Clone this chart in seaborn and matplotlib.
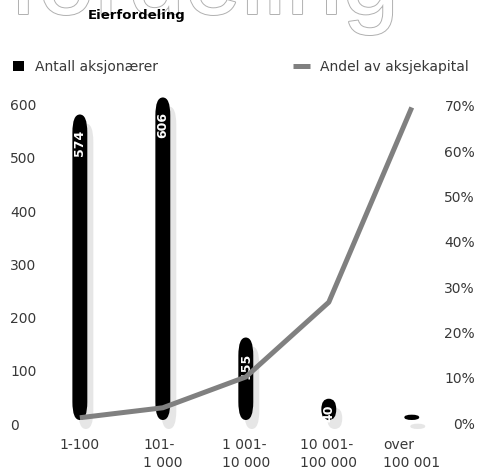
import matplotlib
matplotlib.use("Agg")
import matplotlib.pyplot as plt
import matplotlib.transforms as mtransforms
import matplotlib.patheffects as pe
from matplotlib.patches import FancyBboxPatch, Patch
from matplotlib.lines import Line2D
import numpy as np
import pandas as pd
import seaborn as sns

# data
categories = ["1-100", "101-\n1 000", "1 001-\n10 000", "10 001-\n100 000", "over\n100 001"]
shareholders = [574, 606, 155, 40, 10]
bar_labels = ["574", "606", "155", "40", ""]
capital_share = [0.5, 2.7, 9.5, 26, 69]
left_ticks = [0, 100, 200, 300, 400, 500, 600]
right_ticks = [0, 10, 20, 30, 40, 50, 60, 70]

sns.set_theme(style="white")
plt.rcParams["font.family"] = ["DejaVu Sans"]
TXT = "#383838"

W, H = 479, 469
fig = plt.figure(figsize=(W / 100, H / 100), dpi=100)
ax = fig.add_axes([45 / W, 49 / H, 390 / W, 330 / H])

df = pd.DataFrame({"group": categories, "count": shareholders})
sns.barplot(data=df, x="group", y="count", color="black", width=0.18,
            saturation=1, ax=ax)
ax.set_xlim(-0.42, 4.28)
ax.set_ylim(0, 620)
ax.set_xlabel("")
ax.set_ylabel("")

# turn the flat bars into rounded capsules with a soft shadow
px_y = ax.transData.transform((0, 1))[1] - ax.transData.transform((0, 0))[1]
shadow_tf = ax.transData + mtransforms.ScaledTranslation(6 / 100, -9 / 100, fig.dpi_scale_trans)
for bar, lab in zip(list(ax.patches), bar_labels):
    x0, w, h = bar.get_x(), bar.get_width(), bar.get_height()
    bar.remove()
    h_px = h * px_y
    cap_px = min(18, h_px / 2)
    r = w / 2
    aspect = (cap_px / px_y) / r
    for tf, col, z in [(shadow_tf, "#e6e6e6", 1), (ax.transData, "black", 2)]:
        ax.add_patch(FancyBboxPatch((x0, 0), w, h,
                                    boxstyle=f"round,pad=0,rounding_size={r}",
                                    mutation_aspect=aspect, transform=tf,
                                    fc=col, ec="none", zorder=z, clip_on=False))
    if lab:
        off = min(15, h_px * 0.25) * 0.72
        ax.annotate(lab, (x0 + w / 2, h), xytext=(0, -off), textcoords="offset points",
                    rotation=90, ha="center", va="top", color="white",
                    fontsize=9, fontweight="bold", zorder=3)

ax.set_yticks(left_ticks)
ax.set_yticklabels([str(v) for v in left_ticks])
ax.tick_params(axis="y", length=0, pad=25.2, labelsize=10, labelcolor=TXT)
ax.tick_params(axis="x", length=0, pad=13, labelsize=10, labelcolor=TXT)
down4 = mtransforms.ScaledTranslation(0, -4 / 100, fig.dpi_scale_trans)
for t in ax.get_yticklabels():
    t.set_ha("left")
    t.set_transform(t.get_transform() + down4)
for t in ax.get_xticklabels():
    t.set_linespacing(1.35)
    t.set_multialignment("left")
sns.despine(ax=ax, left=True, bottom=True)

# capital share line on the right axis
ax2 = ax.twinx()
sns.lineplot(x=np.arange(len(categories)), y=capital_share, ax=ax2,
             color="#808080", linewidth=3.6, solid_capstyle="butt")
ax2.set_ylim(0, 72.85)
ax2.set_yticks(right_ticks)
ax2.set_yticklabels([f"{v}%" for v in right_ticks])
ax2.set_ylabel("")
ax2.tick_params(axis="y", length=0, pad=28.8, labelsize=10, labelcolor=TXT)
down3 = mtransforms.ScaledTranslation(0, -3 / 100, fig.dpi_scale_trans)
for t in ax2.get_yticklabels():
    t.set_ha("right")
    t.set_transform(t.get_transform() + down3)
for s in ax2.spines.values():
    s.set_visible(False)

# legends
fig.legend(handles=[Patch(fc="black", ec="none")], labels=["Antall aksjonærer"],
           loc="center left", bbox_to_anchor=(13 / W, 1 - 67 / H), frameon=False,
           handlelength=0.8, handleheight=0.8, handletextpad=0.8,
           borderpad=0, borderaxespad=0, fontsize=10, labelcolor=TXT)
fig.legend(handles=[Line2D([], [], color="#808080", lw=3.6, solid_capstyle="butt")],
           labels=["Andel av aksjekapital"],
           loc="center left", bbox_to_anchor=(293 / W, 1 - 67 / H), frameon=False,
           handlelength=1.22, handletextpad=0.7,
           borderpad=0, borderaxespad=0, fontsize=10, labelcolor=TXT)

# big outlined word behind the title
fig.text(10 / W, 1 - 14 / H, "fordeling", fontsize=73, color="white",
         family=["Liberation Sans", "DejaVu Sans"], ha="left", va="baseline",
         path_effects=[pe.withStroke(linewidth=1.4, foreground="#b0b0b0")], zorder=0)
fig.text(88 / W, 1 - 16 / H, "Eierfordeling", fontsize=9.5, fontweight="bold",
         color="black", ha="left", va="center")

fig.savefig("out.png", dpi=100)
